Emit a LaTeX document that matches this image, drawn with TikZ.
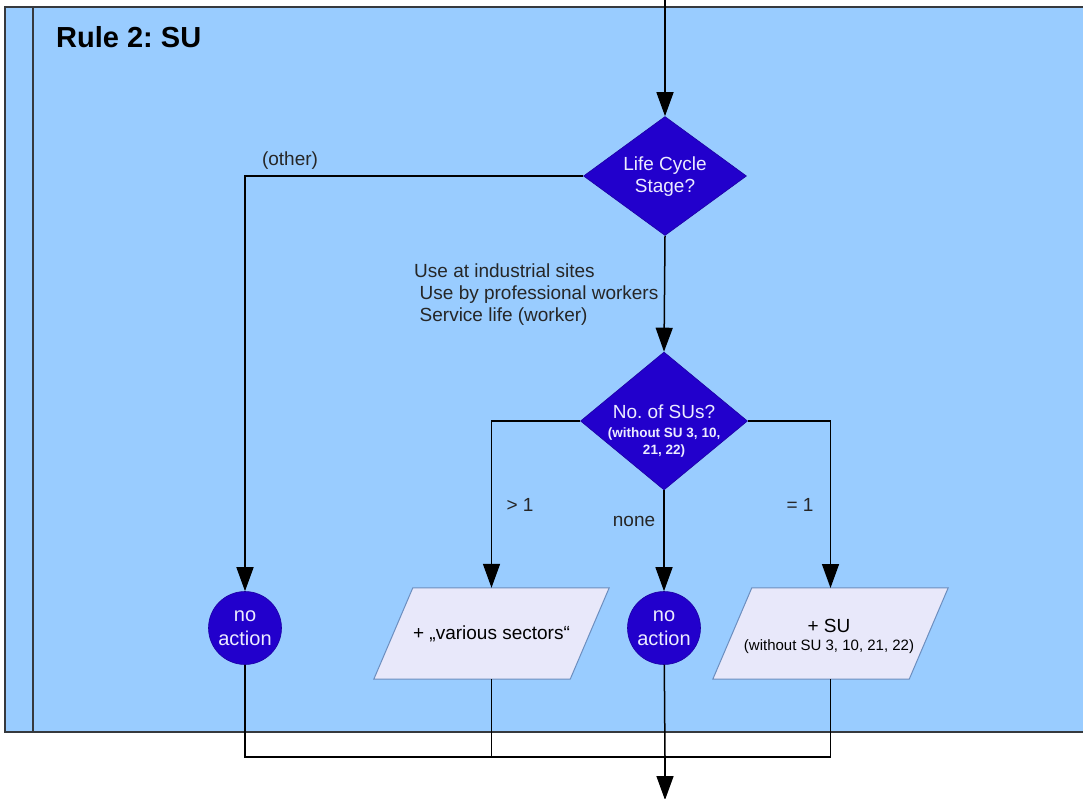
\documentclass[tikz,border=0pt]{standalone}
\usepackage{fontspec}
\setmainfont{Liberation Sans}
\usetikzlibrary{arrows.meta,shapes.geometric,backgrounds}
\frenchspacing
\definecolor{lanebg}{RGB}{153,204,255}
\definecolor{laneborder}{RGB}{54,57,61}
\definecolor{decfill}{RGB}{34,0,204}
\definecolor{dectext}{RGB}{236,236,255}
\definecolor{parafill}{RGB}{232,232,250}
\definecolor{paraborder}{RGB}{108,142,191}
\tikzset{
  conn/.style={draw=black, line width=1.5pt},
  arr/.style={conn, -{Triangle[length=24pt,width=17pt]}},
  decbox/.style={diamond, fill=decfill, draw=decfill!80!black, line width=0.6pt, inner sep=0pt},
  dectxt/.style={text=dectext, align=center, inner sep=0pt, font=\fontsize{19}{22}\selectfont},
  endcirc/.style={circle, fill=decfill, draw=decfill!80!black, line width=0.6pt, minimum size=73pt, inner sep=0pt, text=dectext, align=center, font=\fontsize{20}{24}\selectfont},
  parabody/.style={rectangle, minimum width=196pt, minimum height=91pt, inner sep=0pt, align=center, font=\fontsize{19}{22}\selectfont},
  parashape/.style={fill=parafill, draw=paraborder, line width=1pt, line join=miter},
  lbl/.style={inner sep=0pt, font=\fontsize{19}{22}\selectfont, text=black!85}
}
\newcommand{\smallb}{\bfseries\fontsize{13.5}{17}\selectfont}
\begin{document}
\begin{tikzpicture}[x=1pt,y=-1pt]
\useasboundingbox (0,0) rectangle (1083,798);
\clip (0,0) rectangle (1083,798);
% swimlane
\begin{scope}[on background layer]
\draw[fill=lanebg, draw=laneborder, line width=1.8pt] (5,7) rectangle (1100,732);
\draw[draw=laneborder, line width=1.8pt] (33,7) -- (33,732);
\end{scope}
\node[anchor=west, inner sep=0pt, font=\bfseries\fontsize{29}{33}\selectfont] (title) at (56,37) {Rule 2: SU};
% decisions
\node[decbox, minimum width=163pt, minimum height=119pt] (d1) at (665,176) {};
\node[dectxt] (d1t) at (665,177) {Life Cycle\\Stage?};
\node[decbox, minimum width=167pt, minimum height=138pt] (d2) at (664,421) {};
\node[dectxt] (d2t) at (664,431) {No. of SUs?\\[-3pt]{\smallb (without SU 3, 10,}\\[-5pt]{\smallb 21, 22)}};
% ends
\node[endcirc] (c1) at (245,628) {no\\action};
\node[endcirc] (c2) at (664,628) {no\\action};
\node[parabody] (p1) at (491.5,633.5) {+ „various sectors“};
\node[parabody] (p2) at (829,636) {+ SU\\[-4pt]{\fontsize{15}{18}\selectfont (without SU 3, 10, 21, 22)}};
\begin{scope}[on background layer]
\draw[parashape] ([xshift=19.5pt]p1.north west) -- ([xshift=19.5pt]p1.north east) -- ([xshift=-19.5pt]p1.south east) -- ([xshift=-19.5pt]p1.south west) -- cycle;
\draw[parashape] ([xshift=21pt,yshift=2.5pt]p2.north west) -- ([xshift=21pt,yshift=2.5pt]p2.north east) -- ([xshift=-18pt,yshift=2.5pt]p2.south east) -- ([xshift=-18pt,yshift=2.5pt]p2.south west) -- cycle;
\end{scope}
% connectors
\coordinate (topin) at (665,-5);
\draw[arr] (topin) -- (d1.north);
\draw[arr] (d1.west) -| (c1);
\draw[arr] (d1.south) -- (d2.north);
\draw[arr] (d2.west) -| (p1);
\draw[arr] (d2.south) -- (c2);
\coordinate (p2top) at (830.5,588);
\coordinate (p2bot) at (830.5,679);
\draw[arr] (d2.east) -| (p2top);
\coordinate (join) at (665,757);
\coordinate (botout) at (665,800);
\draw[conn] (c1) |- (join);
\draw[conn] (p1) |- (join);
\draw[conn] (p2bot) |- (join);
\draw[conn] (c2) -- (join);
\draw[arr] (join) -- (botout);
% labels
\node[lbl] (lother) at (290,161) {(other)};
\node[lbl, anchor=west, align=left] (luse) at (414,295) {Use at industrial sites\\\hspace*{5.5pt}Use by professional workers\\\hspace*{5.5pt}Service life (worker)};
\node[lbl] (lgt) at (520,505) {> 1};
\node[lbl] (lnone) at (634,521) {none};
\node[lbl] (leq) at (800,505) {= 1};
\end{tikzpicture}
\end{document}
